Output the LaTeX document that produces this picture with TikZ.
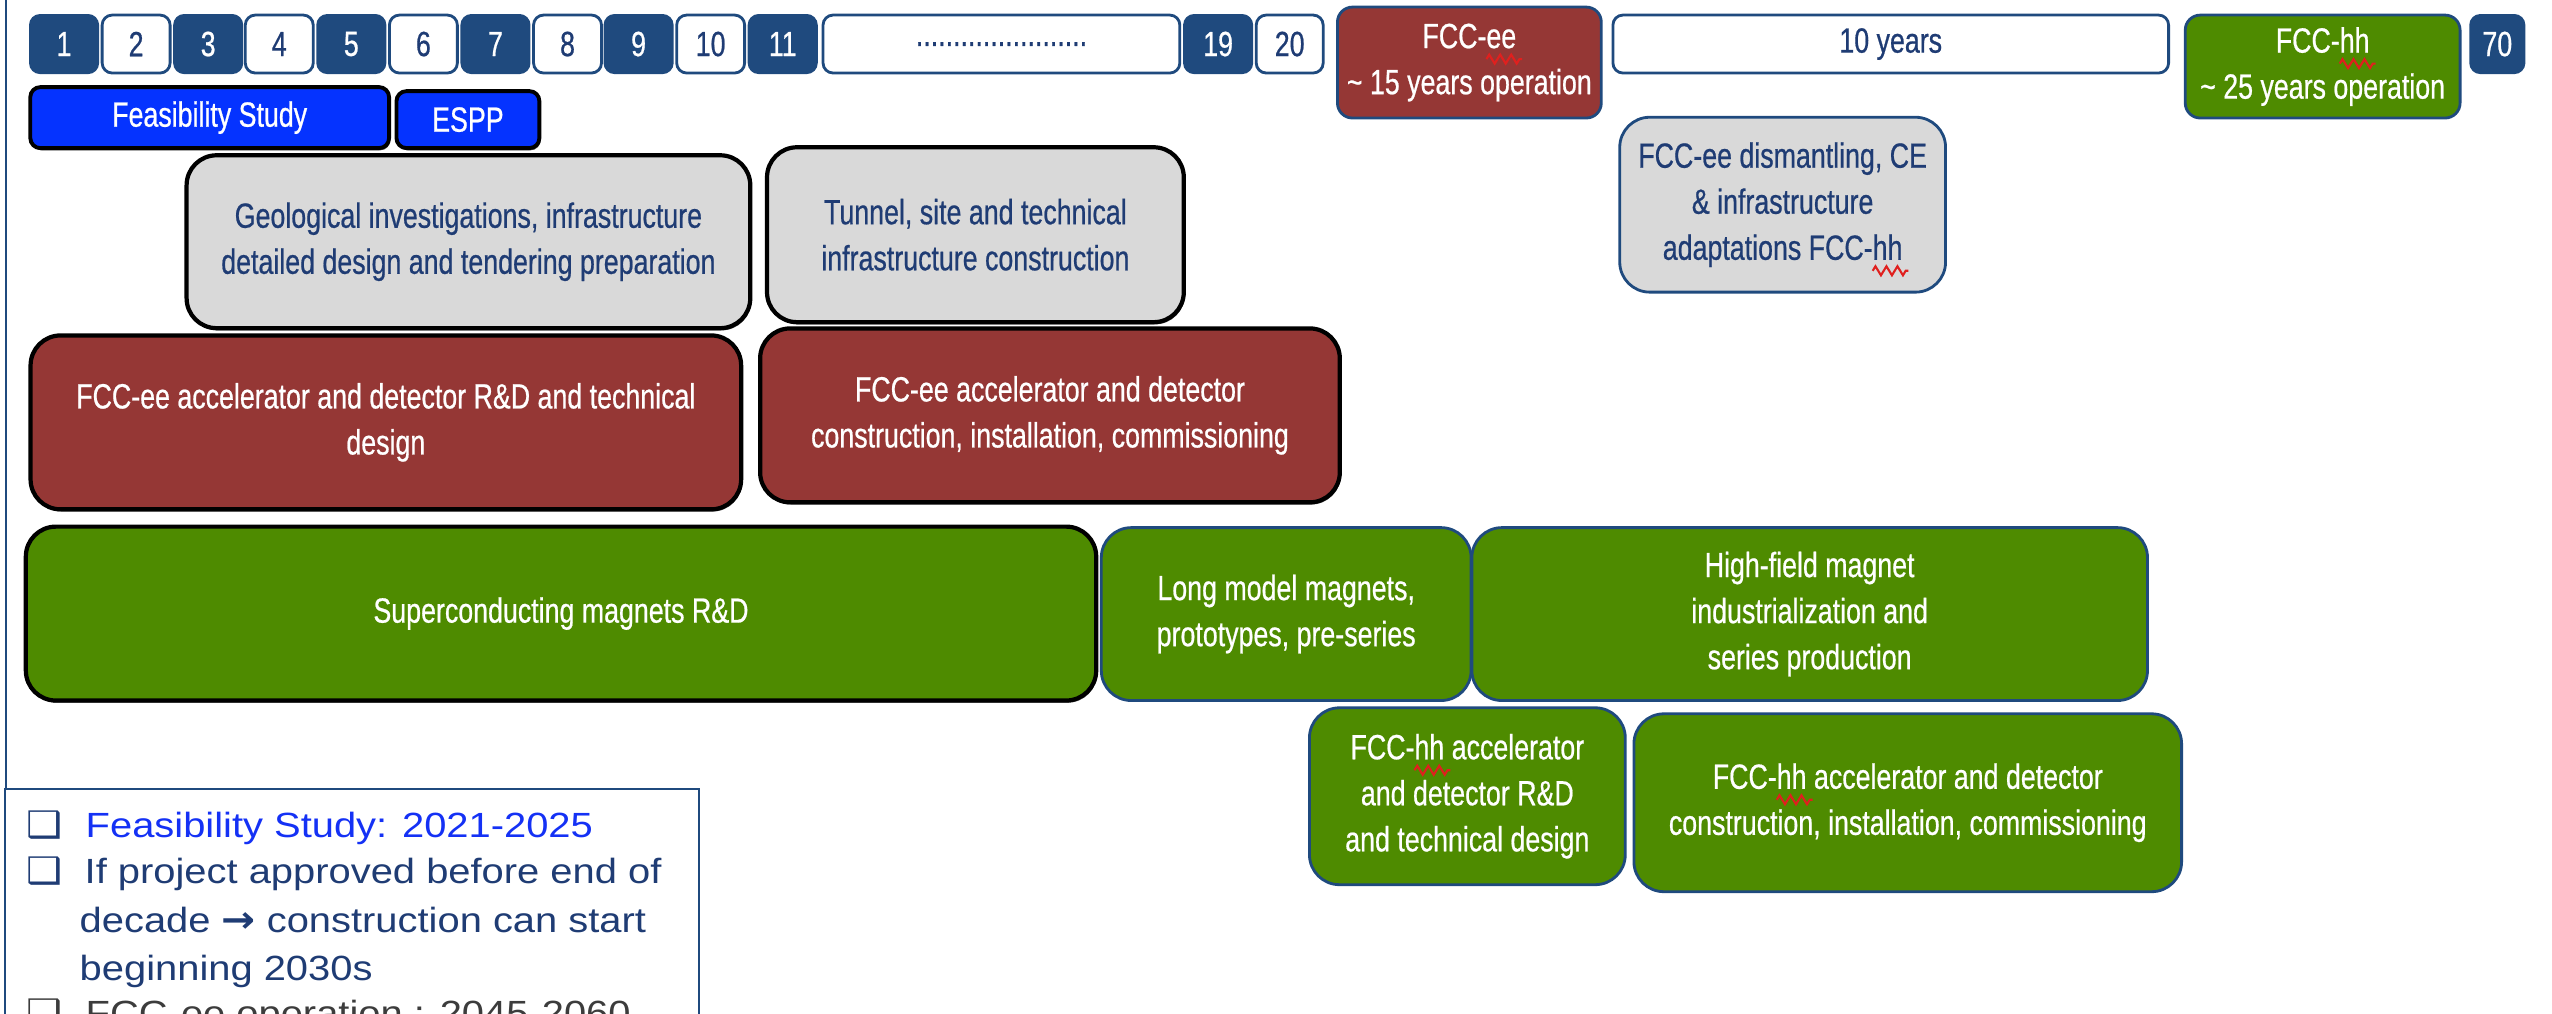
\documentclass[tikz,border=0pt]{standalone}
\usepackage{fontspec}
\setmainfont{Liberation Sans}
\newfontfamily\boxfam{Liberation Sans}[FakeStretch=0.765,FakeBold=0.6]
\newfontfamily\legfam{Liberation Sans}[FakeStretch=1.14]
\newfontfamily\bulfam{DejaVu Sans}[FakeStretch=1.1]
\usetikzlibrary{decorations.pathmorphing,shadows}
\definecolor{navy}{HTML}{1F4A7E}
\definecolor{navytext}{HTML}{1F3C74}
\definecolor{fsblue}{HTML}{0533FF}
\definecolor{legblue}{HTML}{1431F5}
\definecolor{fccred}{HTML}{953735}
\definecolor{fccgreen}{HTML}{4E8B00}
\definecolor{lgray}{HTML}{D9D9D9}
\definecolor{spellred}{HTML}{E0201E}
\definecolor{darkgraytext}{HTML}{3C3C3C}
\newcommand\bxfont{\boxfam\fontsize{9.96}{13.1}\selectfont}
\newcommand\lgfont{\legfam\fontsize{9.96}{13.8}\selectfont}
\newcommand\legarrow{{\bulfam\bfseries\fontsize{10.5}{13.8}\selectfont →}}
\newcommand\spell[1]{\tikz[baseline=(sp.base)]{\node[shape=rectangle,inner sep=0pt,outer sep=0pt,minimum width=0pt,minimum height=0pt,draw=none,fill=none] (sp) {#1};\draw[overlay,draw=spellred,line width=0.6pt,sharp corners,decorate,decoration={zigzag,segment length=0.11cm,amplitude=0.045cm}] ([yshift=-0.11cm]sp.base west) -- ([yshift=-0.11cm,xshift=0.06cm]sp.base east);}}
% name, x1, y1, x2, y2 (pixels), style, text
\newcommand\bx[7]{\node[#6, minimum width={(#4-#2)*0.01cm}, minimum height={(#5-#3)*0.01cm}] (#1) at ({(#2+#4)*0.005cm},{-(#3+#5)*0.005cm}) {#7};}
\tikzset{
  basebox/.style={rectangle, align=center, inner sep=0pt, font=\bxfont},
  blackshadow/.style={drop shadow={shadow xshift=0.012cm, shadow yshift=-0.022cm, fill=black, opacity=0.7}},
  darknum/.style={basebox, rounded corners=0.1cm, fill=navy, draw=navy, line width=0.6pt, text=white},
  whitenum/.style={basebox, rounded corners=0.1cm, fill=white, draw=navy, line width=0.8pt, text=navytext},
  bluebox/.style={basebox, rounded corners=0.1cm, fill=fsblue, draw=black, line width=1.1pt, text=white, blackshadow},
  graybox/.style={basebox, rounded corners=0.3cm, fill=lgray, draw=black, line width=1.2pt, text=navytext, blackshadow},
  grayblue/.style={basebox, rounded corners=0.3cm, fill=lgray, draw=navy, line width=0.8pt, text=navytext},
  redbox/.style={basebox, rounded corners=0.3cm, fill=fccred, draw=black, line width=1.2pt, text=white, blackshadow},
  redtop/.style={basebox, rounded corners=0.15cm, fill=fccred, draw=navy, line width=0.8pt, text=white},
  greenbox/.style={basebox, rounded corners=0.3cm, fill=fccgreen, draw=black, line width=1.2pt, text=white, blackshadow},
  greenblue/.style={basebox, rounded corners=0.3cm, fill=fccgreen, draw=navy, line width=0.8pt, text=white},
  greentop/.style={basebox, rounded corners=0.15cm, fill=fccgreen, draw=navy, line width=0.8pt, text=white},
  legtext/.style={anchor=base west, inner sep=0pt, font=\lgfont},
  legbul/.style={anchor=base west, inner sep=0pt, font=\bulfam\fontsize{10.4}{13.8}\selectfont, text=navytext},
  frame/.style={draw=navy, line width=0.7pt}
}
\begin{document}
\begin{tikzpicture}
\useasboundingbox (0,0) rectangle (25.52,-10.13);
\clip (0,0) rectangle (25.52,-10.13);
% top row
\bx{n1}{30}{15}{98}{73}{darknum}{1}
\bx{n2}{102}{15}{170}{73}{whitenum}{2}
\bx{n3}{174}{15}{242}{73}{darknum}{3}
\bx{n4}{245}{15}{313}{73}{whitenum}{4}
\bx{n5}{317}{15}{385}{73}{darknum}{5}
\bx{n6}{389}{15}{457}{73}{whitenum}{6}
\bx{n7}{461}{15}{529}{73}{darknum}{7}
\bx{n8}{533}{15}{601}{73}{whitenum}{8}
\bx{n9}{604}{15}{672}{73}{darknum}{9}
\bx{n10}{676}{15}{744}{73}{whitenum}{10}
\bx{n11}{748}{15}{816}{73}{darknum}{11}
\bx{ndots}{822}{15}{1179}{73}{whitenum}{.......................}
\bx{n19}{1183}{15}{1251}{73}{darknum}{19}
\bx{n20}{1255}{15}{1322}{73}{whitenum}{20}
\bx{eeop}{1336}{7}{1600}{118}{redtop}{FCC-\spell{ee}\\\textasciitilde{} 15 years operation}
\bx{tenyr}{1611}{15}{2167}{73}{whitenum}{10 years}
\bx{hhop}{2183}{15}{2458}{118}{greentop}{FCC-\spell{hh}\\\textasciitilde{} 25 years operation}
\bx{n70}{2468}{15}{2522}{73}{darknum}{70}
% second row
\bx{fs}{30}{87}{389}{148}{bluebox}{Feasibility Study}
\bx{espp}{396}{91}{539}{148}{bluebox}{ESPP}
% gray
\bx{geo}{186}{155}{750}{328}{graybox}{Geological investigations, infrastructure\\detailed design and tendering preparation}
\bx{tunnel}{766}{147}{1183}{322}{graybox}{Tunnel, site and technical\\infrastructure construction}
\bx{dism}{1618}{117}{1944}{292}{grayblue}{FCC-ee dismantling, CE\\\& infrastructure\\adaptations FCC-\spell{hh}}
% red
\bx{eerd}{30}{335}{741}{509}{redbox}{FCC-ee accelerator and detector R\&D and technical\\design}
\bx{eecon}{759}{328}{1339}{502}{redbox}{FCC-ee accelerator and detector\\construction, installation, commissioning}
% green
\bx{scm}{25}{526}{1096}{700}{greenbox}{Superconducting magnets R\&D}
\bx{lmm}{1100}{527}{1470}{700}{greenblue}{Long model magnets,\\prototypes, pre-series}
\bx{hfm}{1470}{527}{2146}{700}{greenblue}{High-field magnet\\industrialization and\\series production}
\bx{hhrd}{1308}{707}{1624}{884}{greenblue}{FCC-\spell{hh} accelerator\\and detector R\&D\\and technical design}
\bx{hhcon}{1632}{713}{2180}{891}{greenblue}{FCC-\spell{hh} accelerator and detector\\construction, installation, commissioning}
% frame and legend
\coordinate (ftop) at (0.06,0);
\coordinate (fbot) at (0.06,-7.88);
\draw[frame] (ftop) -- (fbot);
\node[frame, rectangle, inner sep=0pt, anchor=north west, minimum width=6.94cm, minimum height=3.5cm] (legend) at (0.04,-7.88) {};
\node[legbul] (b1) at (0.26,-8.37) {❑};
\node[legtext, text=legblue] (l1) at (0.85,-8.37) {Feasibility Study: 2021-2025};
\node[legbul] (b2) at (0.26,-8.83) {❑};
\node[legtext, text=navytext] (l2) at (0.84,-8.83) {If project approved before end of};
\node[legtext, text=navytext] (l3) at (0.79,-9.32) {decade \legarrow{} construction can start};
\node[legtext, text=navytext] (l4) at (0.79,-9.80) {beginning 2030s};
\node[legbul, text=darkgraytext] (b5) at (0.26,-10.25) {❑};
\node[legtext, text=darkgraytext] (l5) at (0.85,-10.25) {FCC-ee operation : 2045-2060};
\end{tikzpicture}
\end{document}
